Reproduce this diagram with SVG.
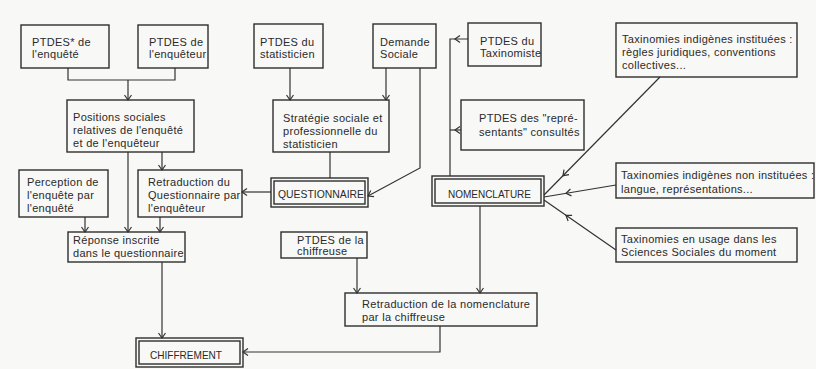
<svg xmlns="http://www.w3.org/2000/svg" width="816" height="369" viewBox="0 0 816 369">
<style>
  .box{fill:none;stroke:#2e2e2e;stroke-width:1.4}
  .ln{fill:none;stroke:#333;stroke-width:1.2}
  text{font-family:"Liberation Sans",Arial,sans-serif;font-size:11px;fill:#2a2a2a;letter-spacing:0.3px}
  text.cap{font-size:11px;letter-spacing:0}
</style>
<defs>
  <marker id="ah" markerWidth="10" markerHeight="10" refX="8" refY="5" orient="auto" markerUnits="userSpaceOnUse">
    <path d="M3,1.5 L8,5 L3,8.5" fill="none" stroke="#333" stroke-width="1.2"/>
  </marker>
</defs>
<rect x="0" y="0" width="816" height="369" fill="#f8f8f6"/>

<g id="connectors">
  <path class="ln" d="M68,68 V80 H175 V68"/>
  <path class="ln" d="M128,80 V100" marker-end="url(#ah)"/>
  <path class="ln" d="M290,68 V100" marker-end="url(#ah)"/>
  <path class="ln" d="M386,68 V100" marker-end="url(#ah)"/>
  <path class="ln" d="M420,68 V168 L368,196" marker-end="url(#ah)"/>
  <path class="ln" d="M330,152 V178"/>
  <path class="ln" d="M271,192 H242" marker-end="url(#ah)"/>
  <path class="ln" d="M162,152 V170" marker-end="url(#ah)"/>
  <path class="ln" d="M128,152 V232" marker-end="url(#ah)"/>
  <path class="ln" d="M85,217 V232" marker-end="url(#ah)"/>
  <path class="ln" d="M160,217 V232" marker-end="url(#ah)"/>
  <path class="ln" d="M162,262 V338" marker-end="url(#ah)"/>
  <path class="ln" d="M440,326 V352 H243" marker-end="url(#ah)"/>
  <path class="ln" d="M468,39 H450 V176"/>
  <path class="ln" d="M460,35.5 L455,39 L460,42.5"/>
  <path class="ln" d="M461,130 H450"/>
  <path class="ln" d="M460,126.5 L455,130 L460,133.5"/>
  <path class="ln" d="M660,77 L544,195"/>
  <path class="ln" d="M569,174.6 L563,175.7 L564,169.7"/>
  <path class="ln" d="M616,185 L544,197"/>
  <path class="ln" d="M571.5,195.9 L566,193.3 L570.4,189"/>
  <path class="ln" d="M616,250 L544,200"/>
  <path class="ln" d="M568.1,221 L566,215.3 L572.1,215.3"/>
  <path class="ln" d="M480,206 V293" marker-end="url(#ah)"/>
  <path class="ln" d="M357,258 V293" marker-end="url(#ah)"/>
</g>

<g id="ptdes-enquete">
  <rect class="box" x="21" y="25" width="88" height="43"/>
  <text x="32" y="46">PTDES* de</text>
  <text x="32" y="58">l'enquêté</text>
</g>
<g id="ptdes-enqueteur">
  <rect class="box" x="138" y="25" width="70" height="43"/>
  <text x="149" y="46">PTDES de</text>
  <text x="149" y="58">l'enquêteur</text>
</g>
<g id="ptdes-statisticien">
  <rect class="box" x="254" y="24" width="69" height="44"/>
  <text x="260" y="46">PTDES du</text>
  <text x="260" y="58">statisticien</text>
</g>
<g id="demande-sociale">
  <rect class="box" x="373" y="24" width="63" height="44"/>
  <text x="380" y="46">Demande</text>
  <text x="380" y="58">Sociale</text>
</g>
<g id="ptdes-taxinomiste">
  <rect class="box" x="468" y="23" width="73" height="43"/>
  <text x="480" y="45">PTDES du</text>
  <text x="480" y="57">Taxinomiste</text>
</g>
<g id="tax-instituees">
  <rect class="box" x="616" y="23" width="181" height="54"/>
  <text x="622" y="43">Taxinomies indigènes instituées :</text>
  <text x="622" y="56">règles juridiques, conventions</text>
  <text x="622" y="69">collectives...</text>
</g>
<g id="positions">
  <rect class="box" x="67" y="100" width="127" height="52"/>
  <text x="73" y="121">Positions sociales</text>
  <text x="73" y="134">relatives de l'enquêté</text>
  <text x="73" y="147">et de l'enquêteur</text>
</g>
<g id="strategie">
  <rect class="box" x="273" y="100" width="116" height="52"/>
  <text x="283" y="122">Stratégie sociale et</text>
  <text x="283" y="135">professionnelle du</text>
  <text x="283" y="148">statisticien</text>
</g>
<g id="ptdes-representants">
  <rect class="box" x="461" y="100" width="123" height="50"/>
  <text x="479" y="122">PTDES des "repré-</text>
  <text x="479" y="136">sentants" consultés</text>
</g>
<g id="perception">
  <rect class="box" x="19" y="170" width="89" height="47"/>
  <text x="27" y="186">Perception de</text>
  <text x="27" y="199">l'enquête par</text>
  <text x="27" y="212">l'enquêté</text>
</g>
<g id="retraduction-questionnaire">
  <rect class="box" x="138" y="170" width="104" height="47"/>
  <text x="148" y="186">Retraduction du</text>
  <text x="148" y="199">Questionnaire par</text>
  <text x="148" y="212">l'enquêteur</text>
</g>
<g id="questionnaire">
  <rect class="box" x="271" y="178" width="97" height="29"/>
  <rect class="box" x="274" y="181" width="91" height="23" stroke-width="1"/>
  <text class="cap" x="278" y="198" textLength="86" lengthAdjust="spacingAndGlyphs">QUESTIONNAIRE</text>
</g>
<g id="nomenclature">
  <rect class="box" x="432" y="176" width="112" height="30"/>
  <rect class="box" x="435" y="179" width="106" height="24" stroke-width="1"/>
  <text class="cap" x="448" y="198" textLength="83" lengthAdjust="spacingAndGlyphs">NOMENCLATURE</text>
</g>
<g id="tax-non-instituees">
  <rect class="box" x="616" y="163" width="198" height="35"/>
  <text x="621" y="179">Taxinomies indigènes non instituées :</text>
  <text x="621" y="193">langue, représentations...</text>
</g>
<g id="reponse">
  <rect class="box" x="68" y="232" width="117" height="30"/>
  <text x="73" y="244">Réponse inscrite</text>
  <text x="73" y="257">dans le questionnaire</text>
</g>
<g id="ptdes-chiffreuse">
  <rect class="box" x="281" y="232" width="86" height="26"/>
  <text x="297" y="244">PTDES de la</text>
  <text x="297" y="255">chiffreuse</text>
</g>
<g id="tax-usage">
  <rect class="box" x="616" y="228" width="181" height="34"/>
  <text x="621" y="243">Taxinomies en usage dans les</text>
  <text x="621" y="256">Sciences Sociales du moment</text>
</g>
<g id="retraduction-nomenclature">
  <rect class="box" x="345" y="293" width="192" height="33"/>
  <text x="362" y="308">Retraduction de la nomenclature</text>
  <text x="362" y="321">par la chiffreuse</text>
</g>
<g id="chiffrement">
  <rect class="box" x="136" y="338" width="107" height="29"/>
  <rect class="box" x="139" y="341" width="101" height="23" stroke-width="1"/>
  <text class="cap" x="150" y="359" textLength="72" lengthAdjust="spacingAndGlyphs">CHIFFREMENT</text>
</g>
</svg>
